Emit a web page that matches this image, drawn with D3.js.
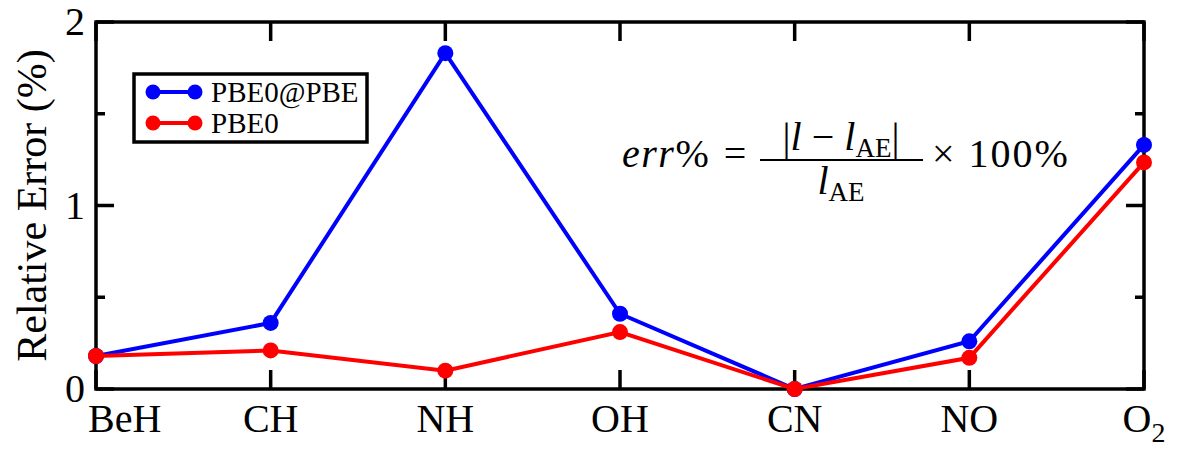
<!DOCTYPE html>
<meta charset="utf-8">
<style>
body { margin: 0; background: white; }
svg { display: block; }
</style>
<body>
<script src="https://cdn.jsdelivr.net/npm/d3@7"></script>
<script>
// data
var molecules = ["BeH", "CH", "NH", "OH", "CN", "NO", "O2"];
var pbe0AtPbe = [0.18, 0.36, 1.83, 0.41, 0.0, 0.26, 1.33];
var pbe0 = [0.18, 0.21, 0.10, 0.31, 0.0, 0.17, 1.235];
var yMajorTicks = [0, 1, 2];
var yMinorTicks = [0.5, 1.5];

var W = 1181, H = 450;
var margin = {top: 22, right: 37, bottom: 61, left: 96};
var serif = "'Liberation Serif', 'Times New Roman', Times, serif";

var svg = d3.select("body").append("svg")
    .attr("width", W)
    .attr("height", H)
    .attr("font-family", serif);

var x = d3.scalePoint()
    .domain(molecules)
    .range([margin.left, W - margin.right]);
var y = d3.scaleLinear()
    .domain([0, 2])
    .range([H - margin.bottom, margin.top]);

var axisW = 3.5;

// helper so every text gets the serif face
function txt(sel, size) {
  return sel.append("text")
    .style("font-family", serif)
    .style("font-size", size + "px")
    .attr("fill", "black");
}

// frame ticks (inward, mirrored on all sides)
var tickG = svg.append("g").attr("stroke", "black").attr("stroke-width", axisW);
yMajorTicks.forEach(function(v) {
  tickG.append("line").attr("x1", x.range()[0]).attr("x2", x.range()[0] + 18)
    .attr("y1", y(v)).attr("y2", y(v));
  tickG.append("line").attr("x1", x.range()[1]).attr("x2", x.range()[1] - 18)
    .attr("y1", y(v)).attr("y2", y(v));
});
yMinorTicks.forEach(function(v) {
  tickG.append("line").attr("x1", x.range()[0]).attr("x2", x.range()[0] + 9)
    .attr("y1", y(v)).attr("y2", y(v));
  tickG.append("line").attr("x1", x.range()[1]).attr("x2", x.range()[1] - 9)
    .attr("y1", y(v)).attr("y2", y(v));
});
molecules.forEach(function(m) {
  tickG.append("line").attr("x1", x(m)).attr("x2", x(m))
    .attr("y1", y(0)).attr("y2", y(0) - 19);
  tickG.append("line").attr("x1", x(m)).attr("x2", x(m))
    .attr("y1", y(2)).attr("y2", y(2) + 19);
});

// frame
svg.append("rect")
    .attr("x", x.range()[0])
    .attr("y", y(2))
    .attr("width", x.range()[1] - x.range()[0])
    .attr("height", y(0) - y(2))
    .attr("fill", "none")
    .attr("stroke", "black")
    .attr("stroke-width", axisW);

// y tick labels
yMajorTicks.forEach(function(v) {
  txt(svg, 40)
    .attr("x", x.range()[0] - 11)
    .attr("y", y(v))
    .attr("dy", "0.33em")
    .attr("text-anchor", "end")
    .text(v);
});

// x tick labels (first one is pushed right so it clears the "0")
molecules.forEach(function(d, i) {
  var t = txt(svg, 40).attr("y", 432);
  if (i === 0) {
    t.attr("x", x(d) - 8).attr("text-anchor", "start");
  } else {
    t.attr("x", x(d)).attr("text-anchor", "middle");
  }
  var m = d.match(/^([A-Za-z]+)(\d*)$/);
  t.append("tspan").text(m[1]);
  if (m[2]) {
    t.append("tspan").attr("dy", 10).style("font-size", "28px").text(m[2]);
  }
});

// y axis title
txt(svg, 42)
    .attr("transform", "translate(46," + ((y(0) + y(2)) / 2) + ") rotate(-90)")
    .attr("text-anchor", "middle")
    .text("Relative Error (%)");

// series
var series = [
  {name: "PBE0@PBE", values: pbe0AtPbe, color: "#0000ff"},
  {name: "PBE0", values: pbe0, color: "#ff0000"}
];
var line = d3.line()
    .x(function(d, i) { return x(molecules[i]); })
    .y(function(d) { return y(d); });

series.forEach(function(s) {
  svg.append("path")
      .datum(s.values)
      .attr("fill", "none")
      .attr("stroke", s.color)
      .attr("stroke-width", 4)
      .attr("d", line);
  svg.selectAll(null)
    .data(s.values)
    .enter().append("circle")
      .attr("cx", function(d, i) { return x(molecules[i]); })
      .attr("cy", function(d) { return y(d); })
      .attr("r", 8)
      .attr("fill", s.color);
});

// legend
var lg = svg.append("g");
lg.append("rect")
    .attr("x", 134).attr("y", 74)
    .attr("width", 233).attr("height", 68)
    .attr("fill", "white").attr("stroke", "black").attr("stroke-width", 3.5);
series.forEach(function(s, i) {
  var ly = 92 + i * 31;
  lg.append("line").attr("x1", 153).attr("x2", 195).attr("y1", ly).attr("y2", ly)
    .attr("stroke", s.color).attr("stroke-width", 4);
  lg.append("circle").attr("cx", 153).attr("cy", ly).attr("r", 7.5).attr("fill", s.color);
  lg.append("circle").attr("cx", 195).attr("cy", ly).attr("r", 7.5).attr("fill", s.color);
  txt(lg, 29).attr("x", 211).attr("y", ly).attr("dy", "0.35em").text(s.name);
});

// formula annotation
var f = svg.append("g");
var lhs = txt(f, 40).attr("x", 622).attr("y", 167).style("letter-spacing", "1.5px");
lhs.append("tspan").style("font-style", "italic").text("err");
lhs.append("tspan").text("%");
txt(f, 40).attr("x", 735).attr("y", 167).attr("text-anchor", "middle").text("=");
var num = txt(f, 40).attr("x", 841).attr("y", 150).attr("text-anchor", "middle");
num.append("tspan").text("|");
num.append("tspan").style("font-style", "italic").text("l");
num.append("tspan").text(" \u2212 ");
num.append("tspan").style("font-style", "italic").text("l");
num.append("tspan").attr("dy", 7).style("font-size", "27px").text("AE");
num.append("tspan").attr("dy", -7).text("|");
f.append("line").attr("x1", 760).attr("x2", 923).attr("y1", 160).attr("y2", 160)
  .attr("stroke", "black").attr("stroke-width", 2);
var den = txt(f, 40).attr("x", 841).attr("y", 194).attr("text-anchor", "middle");
den.append("tspan").style("font-style", "italic").text("l");
den.append("tspan").attr("dy", 7).style("font-size", "27px").text("AE");
txt(f, 40).attr("x", 932).attr("y", 167).style("letter-spacing", "2px").text("\u00d7 100%");
</script>
</body>
